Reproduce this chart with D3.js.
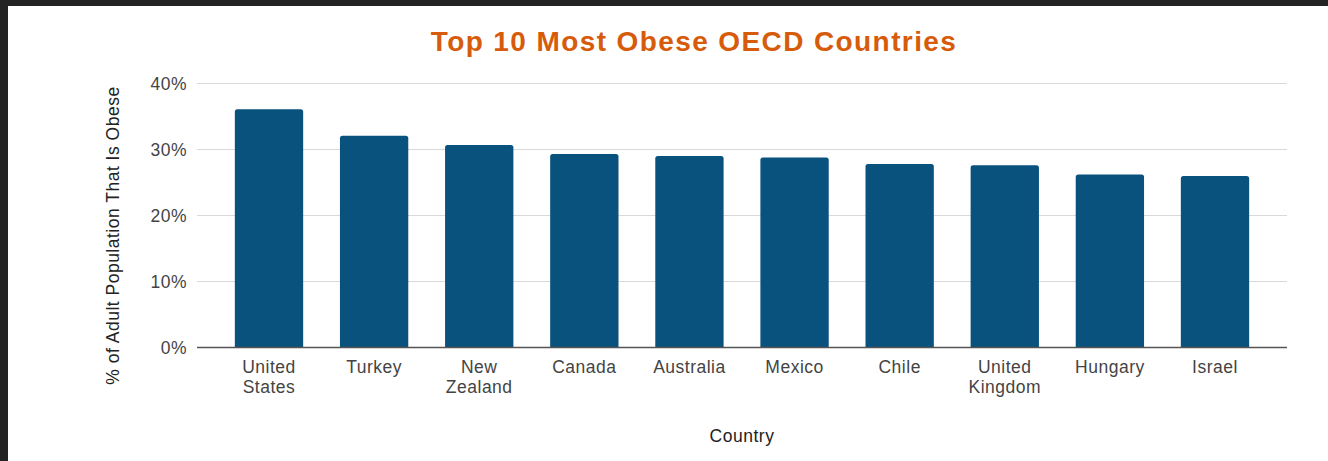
<!DOCTYPE html>
<html>
<head>
<meta charset="utf-8">
<script src="https://cdn.jsdelivr.net/npm/d3@7"></script>
<style>
  html, body { margin: 0; padding: 0; background: #232323; }
  svg { display: block; }
  text { font-family: "Liberation Sans", Arial, sans-serif; letter-spacing: 0.5px; }
  .axis text { fill: #444; font-size: 17.5px; }
</style>
</head>
<body>
<svg id="chart"></svg>
<script>
// Data
const countries = [['United', 'States'], ['Turkey'], ['New', 'Zealand'], ['Canada'], ['Australia'],
  ['Mexico'], ['Chile'], ['United', 'Kingdom'], ['Hungary'], ['Israel']];
const obesity = [36.1, 32.1, 30.7, 29.3, 29.0, 28.8, 27.8, 27.6, 26.2, 26.0];
const yTicks = [0, 10, 20, 30, 40];

const width = 1328, height = 461;
const margin = {top: 83.5, right: 41, bottom: 113.5, left: 197};

const svg = d3.select('#chart')
    .attr('width', width)
    .attr('height', height);

// white card inside the dark frame
svg.append('rect')
    .attr('x', 8).attr('y', 6)
    .attr('width', width - 8).attr('height', height - 6)
    .attr('fill', '#fff');

const data = countries.map((c, i) => ({key: c.join(' '), lines: c, value: obesity[i]}));

const xScale = d3.scaleBand()
    .domain(data.map(d => d.key))
    .range([margin.left, width - margin.right])
    .paddingInner(0.35)
    .paddingOuter(0.36);

const yScale = d3.scaleLinear()
    .domain([0, 40])
    .range([height - margin.bottom, margin.top]);

// gridlines
svg.append('g')
    .selectAll('line')
    .data(yTicks.filter(t => t > 0))
  .join('line')
    .attr('x1', margin.left)
    .attr('x2', width - margin.right)
    .attr('y1', d => yScale(d))
    .attr('y2', d => yScale(d))
    .attr('stroke', '#d9d9d9')
    .attr('stroke-width', 1.2);

// y axis labels
const yAxis = d3.axisLeft(yScale)
    .tickValues(yTicks)
    .tickFormat(d => d + '%')
    .tickSize(0)
    .tickPadding(10);

svg.append('g')
    .attr('class', 'axis y-axis')
    .attr('transform', `translate(${margin.left},0)`)
    .call(yAxis)
    .call(g => g.select('.domain').remove());

// bars with slightly rounded top corners
const r = 2.5;
svg.append('g')
    .selectAll('path')
    .data(data)
  .join('path')
    .attr('fill', '#08527d')
    .attr('d', d => {
      const x0 = xScale(d.key), x1 = x0 + xScale.bandwidth();
      const y0 = yScale(d.value), y1 = yScale(0);
      return `M${x0},${y1}V${y0 + r}Q${x0},${y0} ${x0 + r},${y0}H${x1 - r}Q${x1},${y0} ${x1},${y0 + r}V${y1}Z`;
    });

// baseline
svg.append('line')
    .attr('x1', margin.left)
    .attr('x2', width - margin.right)
    .attr('y1', yScale(0))
    .attr('y2', yScale(0))
    .attr('stroke', '#555')
    .attr('stroke-width', 1.5);

// x axis labels (wrapped)
const xAxis = d3.axisBottom(xScale).tickSize(0).tickFormat('');
const xAxisG = svg.append('g')
    .attr('class', 'axis x-axis')
    .attr('transform', `translate(0,${yScale(0)})`)
    .call(xAxis)
    .call(g => g.select('.domain').remove());

xAxisG.selectAll('.tick text').remove();
xAxisG.selectAll('.tick')
  .append('text')
    .attr('fill', '#222')
    .attr('text-anchor', 'middle')
    .each(function(key) {
      const d = data.find(e => e.key === key);
      d3.select(this).selectAll('tspan')
          .data(d.lines)
        .join('tspan')
          .attr('x', 0)
          .attr('y', (l, i) => 25 + i * 20.5)
          .text(l => l);
    });

// axis titles
svg.append('text')
    .attr('x', 742)
    .attr('y', 442)
    .attr('text-anchor', 'middle')
    .attr('fill', '#222')
    .style('font-size', '17.5px')
    .text('Country');

svg.append('text')
    .attr('transform', `translate(119,${(yScale(0) + margin.top) / 2 + 20}) rotate(-90)`)
    .attr('text-anchor', 'middle')
    .attr('fill', '#222')
    .style('font-size', '17.5px')
    .text('% of Adult Population That Is Obese');

// chart title
svg.append('text')
    .attr('x', 694)
    .attr('y', 51)
    .attr('text-anchor', 'middle')
    .attr('fill', '#d65b0b')
    .style('font-size', '28px')
    .style('font-weight', 'bold')
    .style('letter-spacing', '1.4px')
    .text('Top 10 Most Obese OECD Countries');
</script>
</body>
</html>
